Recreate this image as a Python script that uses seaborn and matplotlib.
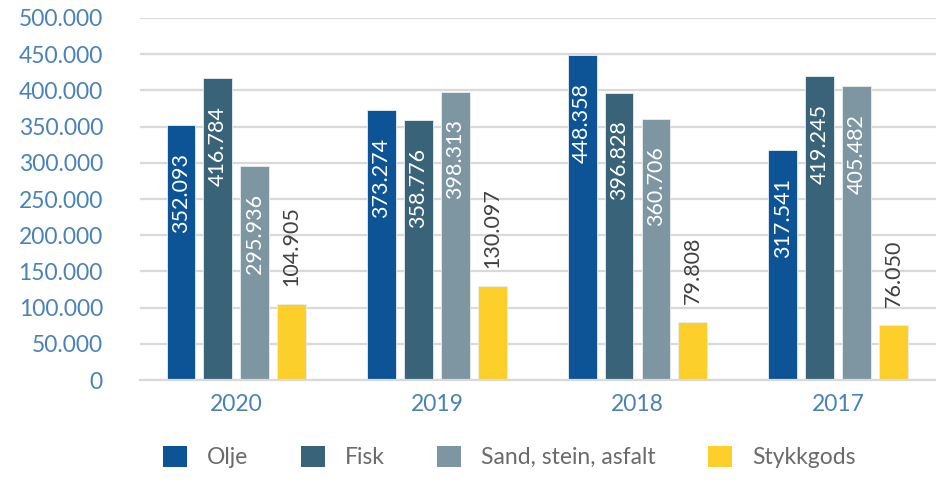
import matplotlib
matplotlib.use("Agg")
import matplotlib.pyplot as plt
import seaborn as sns
import pandas as pd
from matplotlib.ticker import FuncFormatter
from matplotlib.patches import Patch

years = ["2020", "2019", "2018", "2017"]
categories = ["Olje", "Fisk", "Sand, stein, asfalt", "Stykkgods"]
olje = [352093, 373274, 448358, 317541]
fisk = [416784, 358776, 396828, 419245]
sand = [295936, 398313, 360706, 405482]
stykkgods = [104905, 130097, 79808, 76050]
colors = ["#0c5495", "#386378", "#7e96a2", "#fccf2b"]

sns.set_theme(style="white")
plt.rcParams["font.family"] = ["Lato", "DejaVu Sans"]

rows = []
for cat, vals in zip(categories, [olje, fisk, sand, stykkgods]):
    for y, v in zip(years, vals):
        rows.append({"year": y, "type": cat, "value": v})
df = pd.DataFrame(rows)

fig = plt.figure(figsize=(9.36, 4.8), dpi=100)
ax = fig.add_axes([0.15, 0.2083, 0.85, 0.7542])

sns.barplot(data=df, x="year", y="value", hue="type", order=years,
            hue_order=categories, palette=colors, width=0.735, gap=0.22,
            saturation=1, ax=ax, legend=False, errorbar=None,
            edgecolor="#e8eef2", linewidth=0.6)

ax.set_ylim(0, 500000)
ax.set_xlim(-0.478, 3.488)
ax.set_yticks(range(0, 500001, 50000))
ax.yaxis.set_major_formatter(FuncFormatter(lambda v, p: f"{int(v):,}".replace(",", ".")))
ax.grid(axis="y", color="#d9d9d9", linewidth=1.6)
ax.set_axisbelow(True)
for s in ["top", "right", "left"]:
    ax.spines[s].set_visible(False)
ax.spines["bottom"].set_color("#d9d9d9")
ax.spines["bottom"].set_linewidth(1.6)
ax.tick_params(axis="y", length=0, pad=27, labelsize=16.5, labelcolor="#4a82b8")
ax.tick_params(axis="x", length=0, pad=10, labelsize=16.5, labelcolor="#4a82b8")
ax.set_xlabel("")
ax.set_ylabel("")

for i, container in enumerate(ax.containers):
    for bar in container:
        h = bar.get_height()
        x = bar.get_x() + bar.get_width() / 2
        lab = f"{int(h):,}".replace(",", ".")
        if i < 3:
            ax.annotate(lab, (x, h), xytext=(0, -20), textcoords="offset points",
                        rotation=90, ha="center", va="top", color="white",
                        fontsize=15.5)
        else:
            ax.annotate(lab, (x, h), xytext=(0, 13), textcoords="offset points",
                        rotation=90, ha="center", va="bottom", color="#404040",
                        fontsize=15.5)

handles = [Patch(facecolor=c, edgecolor="none") for c in colors]
leg = fig.legend(handles, categories, loc="center", bbox_to_anchor=(0.544, 0.048), ncol=4,
                 frameon=False, fontsize=16.5, labelcolor="#6a6a6a", handlelength=1.05,
                 handleheight=1.05, handletextpad=0.86, columnspacing=2.3)

fig.savefig("out.png", dpi=100)
